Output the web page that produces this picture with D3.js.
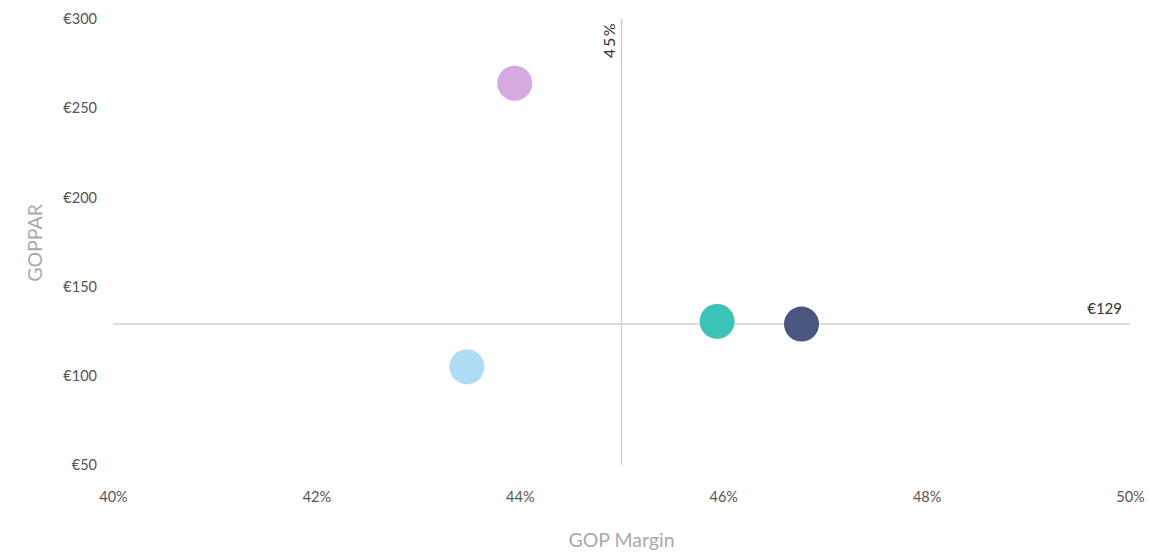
<!DOCTYPE html>
<html><head><meta charset="utf-8">
<script src="https://cdn.jsdelivr.net/npm/d3@7"></script>
<style>
body{margin:0;background:#fff;}
text{font-family:Lato,"Open Sans",sans-serif;}
</style></head>
<body><svg id="c" width="1149" height="555"></svg>
<script>
const names = ["A","B","C","D"];
const margins = [43.95, 43.48, 45.94, 46.77];
const goppar = [264, 105, 130.5, 129];
const colors = ["#d7a9e3","#aedcf4","#3cc3b7","#4b5680"];
const xTicks = [40,42,44,46,48,50];
const yTicks = [50,100,150,200,250,300];
const refX = 45, refY = 129;

const svg = d3.select("#c");
const x = d3.scaleLinear().domain([40,50]).range([113,1130]);
const y = d3.scaleLinear().domain([50,300]).range([465,19]);

const xa = svg.append("g").attr("transform","translate(0,497)")
  .call(d3.axisBottom(x).tickValues(xTicks).tickSize(0).tickFormat(d=>d+"%"));
xa.select(".domain").remove();
xa.selectAll("text").attr("fill","#555").attr("font-size",14.5).attr("dy","0.32em").attr("y",0);

const ya = svg.append("g").attr("transform","translate(97,0)")
  .call(d3.axisLeft(y).tickValues(yTicks).tickSize(0).tickFormat(d=>"€"+d));
ya.select(".domain").remove();
ya.selectAll("text").attr("fill","#555").attr("font-size",14.5).attr("x",0);

// reference lines
svg.append("line").attr("x1",x(refX)).attr("x2",x(refX)).attr("y1",y(300)).attr("y2",y(50))
  .attr("stroke","#d0d0d0").attr("stroke-width",1.5);
svg.append("line").attr("x1",x(40)).attr("x2",x(50)).attr("y1",y(refY)).attr("y2",y(refY))
  .attr("stroke","#d0d0d0").attr("stroke-width",1.5);
svg.append("text").attr("transform",`translate(${x(refX)-7},${y(300)+3}) rotate(-90)`)
  .attr("text-anchor","end").attr("font-size",16).attr("letter-spacing","1.5px")
  .attr("fill","#333").text(refX+"%");
svg.append("text").attr("x",x(50)-8).attr("y",y(refY)-10).attr("text-anchor","end")
  .attr("font-size",15).attr("fill","#333").text("€"+refY);

svg.append("g").selectAll("circle").data(names).join("circle")
  .attr("cx",(d,i)=>x(margins[i])).attr("cy",(d,i)=>y(goppar[i])).attr("r",17.5)
  .attr("fill",(d,i)=>colors[i]);

svg.append("text").attr("x",x(45)).attr("y",547).attr("text-anchor","middle")
  .attr("font-size",19.5).attr("fill","#aaa").text("GOP Margin");
svg.append("text").attr("transform","translate(42,243) rotate(-90)").attr("text-anchor","middle")
  .attr("font-size",19.5).attr("fill","#aaa").text("GOPPAR");
</script></body></html>
